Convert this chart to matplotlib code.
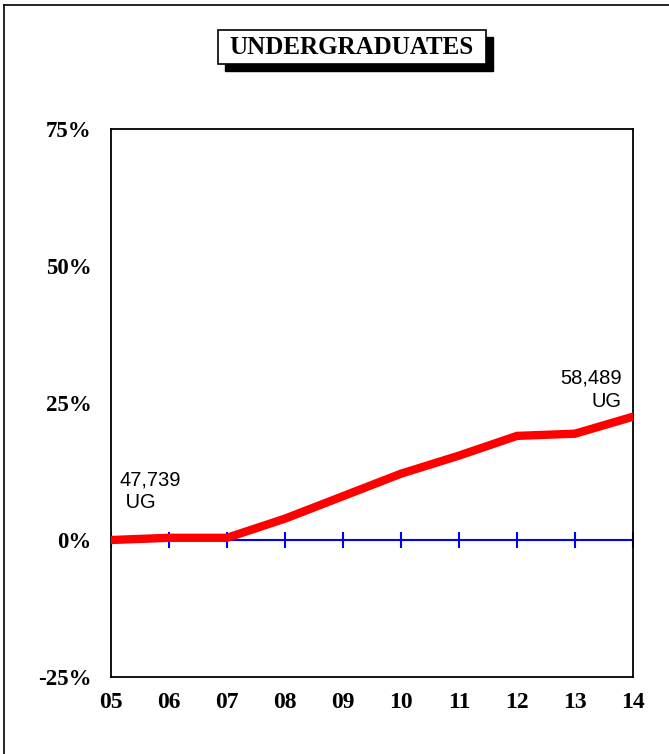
import matplotlib.pyplot as plt
from matplotlib.patches import Rectangle
from matplotlib.lines import Line2D

# fiscal years and % change in undergrad headcount vs 05
years = ['05', '06', '07', '08', '09', '10', '11', '12', '13', '14']
pct_change = [0.0, 0.4, 0.4, 3.9, 8.0, 12.1, 15.4, 19.0, 19.4, 22.5]
y_ticks = [-25, 0, 25, 50, 75]
y_labels = ['-25%', '0%', '25%', '50%', '75%']
start_label = '47,739\n UG'
end_label = '58,489\nUG'

W, H = 669, 754
fig = plt.figure(figsize=(W / 100, H / 100), dpi=100)

serif = ['Liberation Serif', 'DejaVu Serif']
sans = ['Liberation Sans', 'DejaVu Sans']

# outer frame (only top and left edges visible)
fig.add_artist(Line2D([4 / W, 4 / W], [0, 1 - 5 / H], transform=fig.transFigure, color='black', lw=1.2))
fig.add_artist(Line2D([4 / W, 1], [1 - 5 / H, 1 - 5 / H], transform=fig.transFigure, color='black', lw=1.2))

# title box with drop shadow
bx0, bx1, by0, by1 = 218, 486, 30, 64
fig.add_artist(Rectangle(((bx0 + 7) / W, 1 - (by1 + 7) / H), (bx1 - bx0) / W, (by1 - by0) / H,
                         transform=fig.transFigure, facecolor='black', edgecolor='black'))
fig.add_artist(Rectangle((bx0 / W, 1 - by1 / H), (bx1 - bx0) / W, (by1 - by0) / H,
                         transform=fig.transFigure, facecolor='white', edgecolor='black', lw=1.2))
fig.text((bx0 + bx1) / 2 / W, 1 - 47 / H, 'UNDERGRADUATES', ha='center', va='center',
         fontsize=18, fontweight='bold', family=serif)

ax = fig.add_axes([111 / W, 1 - 677 / H, (633 - 111) / W, (677 - 129) / H])
x = list(range(len(years)))

# zero line with category tick marks
ax.plot(x, [0] * len(x), color='#0000ff', lw=1.5, marker='|', markersize=12, mew=1.5, zorder=2)
ax.plot(x, pct_change, color='#ff0000', lw=6, solid_joinstyle='miter', zorder=3)

ax.set_xlim(0, len(years) - 1)
ax.set_ylim(-25, 75)
ax.set_yticks(y_ticks)
ax.set_yticklabels(y_labels)
ax.set_xticks(x)
ax.set_xticklabels(years)
ax.tick_params(length=0)
ax.tick_params(axis='y', pad=14)
ax.tick_params(axis='x', pad=11)
for lab in ax.get_yticklabels():
    lab.set_family(serif)
    lab.set_fontweight('bold')
    lab.set_fontsize(16.5)
for lab in ax.get_xticklabels():
    lab.set_family(serif)
    lab.set_fontweight('bold')
    lab.set_fontsize(17)
for sp in ax.spines.values():
    sp.set_linewidth(1.3)

ax.text(0.15, 8.9, start_label, ha='left', va='center', fontsize=14.5, family=sans, linespacing=1.25)
ax.text(8.81, 27.4, end_label, ha='right', va='center', fontsize=14.5, family=sans,
        multialignment='right', linespacing=1.25)

fig.savefig('out.png', dpi=100)
